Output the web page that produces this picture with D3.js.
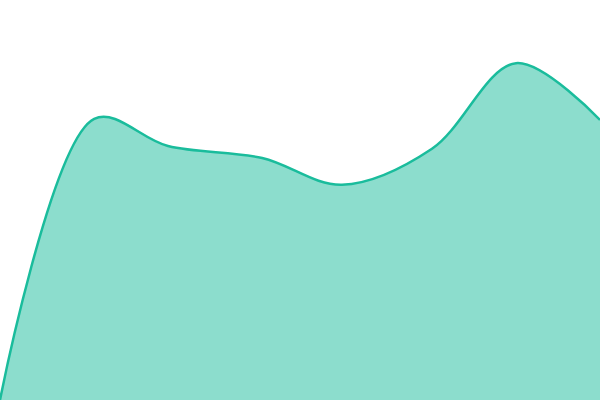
<!DOCTYPE html>
<html>
<head>
<meta charset="utf-8">
<script src="https://cdn.jsdelivr.net/npm/d3@7"></script>
<style>
  html, body { margin: 0; padding: 0; background: #fff; }
  svg { display: block; }
</style>
</head>
<body>
<svg id="chart"></svg>
<script>
// donnees
const steps = [0, 15.7, 28, 43.7, 57, 72, 86, 100]
const values = [0, 70.3, 63.5, 60.5, 53.8, 62.8, 84.2, 70]

const width = 600
const height = 400

const x = d3.scaleLinear().domain([0, 100]).range([0, width])
const y = d3.scaleLinear().domain([0, 100]).range([height, 0])

const svg = d3.select("#chart")
    .attr("width", width)
    .attr("height", height)

const pts = steps.map((s, i) => ({ s: s, v: values[i] }))

const area = d3.area()
    .x(d => x(d.s))
    .y0(height)
    .y1(d => y(d.v))
    .curve(d3.curveCatmullRom)

const line = d3.line()
    .x(d => x(d.s))
    .y(d => y(d.v))
    .curve(d3.curveCatmullRom)

svg.append("path")
    .datum(pts)
    .attr("d", area)
    .attr("fill", "#1abc9c")
    .attr("fill-opacity", 0.5)

svg.append("path")
    .datum(pts)
    .attr("d", line)
    .attr("fill", "none")
    .attr("stroke", "#1abc9c")
    .attr("stroke-width", 2.5)
</script>
</body>
</html>
